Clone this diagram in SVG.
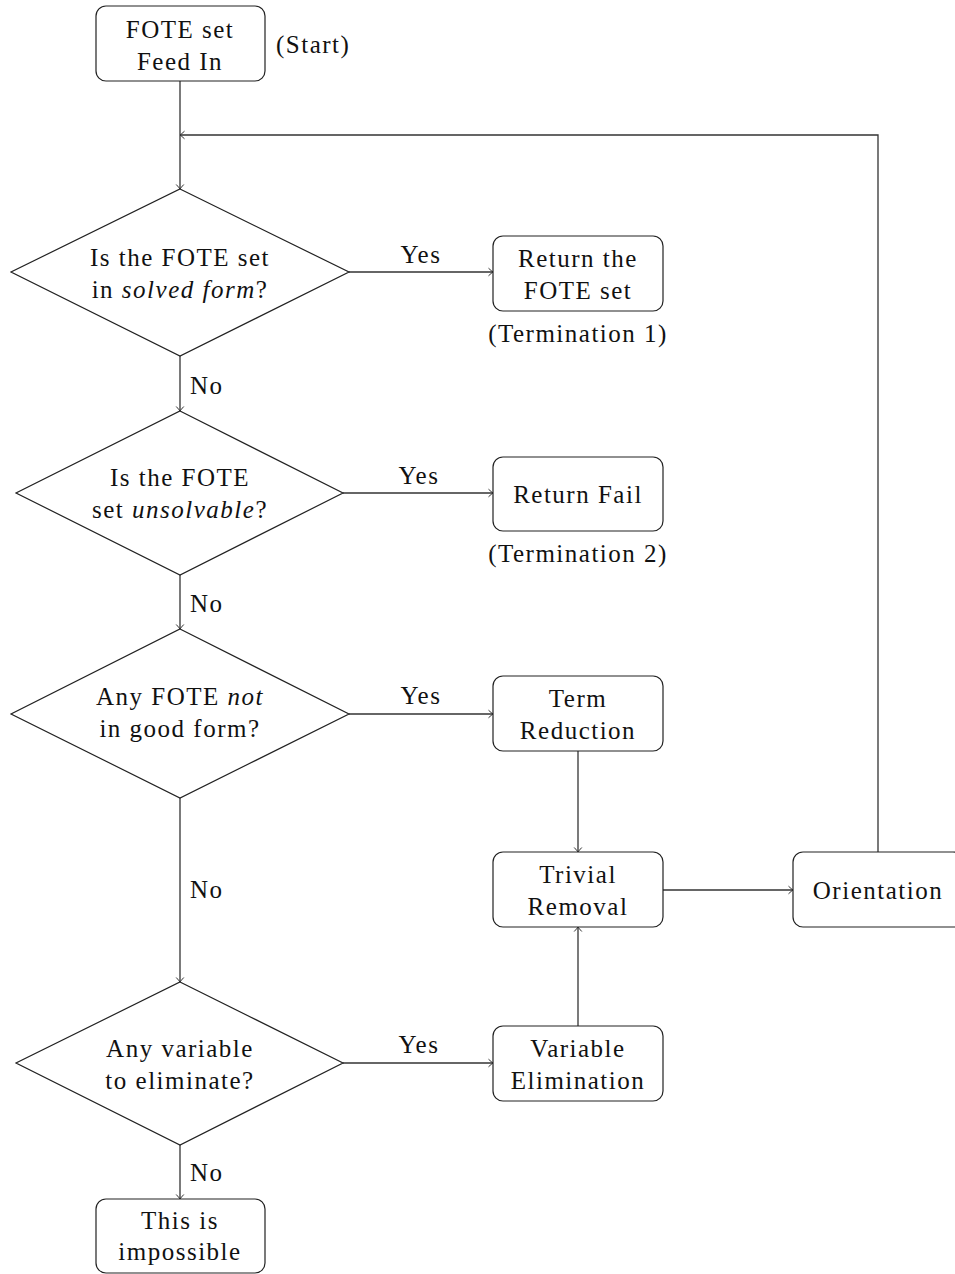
<svg xmlns="http://www.w3.org/2000/svg" width="955" height="1274" viewBox="0 0 955 1274">
  <style>
    .box { fill: #fff; stroke: #222; stroke-width: 1.2; }
    .dia { fill: #fff; stroke: #222; stroke-width: 1.2; }
    .edge { fill: none; stroke: #333; stroke-width: 1.3; }
    text { font-family: "Liberation Serif", "DejaVu Serif", serif; font-size: 25px; letter-spacing: 1.5px; fill: #111; text-anchor: middle; }
    .lbl { text-anchor: start; }
  </style>
  <defs>
    <marker id="arr" viewBox="-6 -5 8 10" markerWidth="8" markerHeight="10" refX="0" refY="0" orient="auto" markerUnits="userSpaceOnUse">
      <path d="M -4.5,-3.8 Q -1.5,-1 0,0 Q -1.5,1 -4.5,3.8" fill="none" stroke="#333" stroke-width="1"/>
    </marker>
  </defs>

  <!-- connectors -->
  <g id="connectors">
    <path class="edge" d="M180,81 V189" marker-end="url(#arr)"/>
    <path class="edge" d="M878,852 V135 H180" marker-end="url(#arr)"/>
    <path class="edge" d="M349,272 H493" marker-end="url(#arr)"/>
    <path class="edge" d="M180,356 V411" marker-end="url(#arr)"/>
    <path class="edge" d="M343,493 H493" marker-end="url(#arr)"/>
    <path class="edge" d="M180,575 V629" marker-end="url(#arr)"/>
    <path class="edge" d="M349,714 H493" marker-end="url(#arr)"/>
    <path class="edge" d="M578,751 V852" marker-end="url(#arr)"/>
    <path class="edge" d="M663,890 H793" marker-end="url(#arr)"/>
    <path class="edge" d="M180,798 V982" marker-end="url(#arr)"/>
    <path class="edge" d="M343,1063 H493" marker-end="url(#arr)"/>
    <path class="edge" d="M578,1026 V927" marker-end="url(#arr)"/>
    <path class="edge" d="M180,1145 V1199" marker-end="url(#arr)"/>
    <text x="421" y="263">Yes</text>
    <text x="419" y="484">Yes</text>
    <text x="421" y="704">Yes</text>
    <text x="419" y="1053">Yes</text>
    <text class="lbl" x="190" y="394">No</text>
    <text class="lbl" x="190" y="612">No</text>
    <text class="lbl" x="190" y="898">No</text>
    <text class="lbl" x="190" y="1181">No</text>
  </g>

  <g id="start">
    <rect class="box" x="96" y="6" width="169" height="75" rx="10"/>
    <text x="180" y="38">FOTE set</text>
    <text x="180" y="70">Feed In</text>
    <text class="lbl" x="276" y="53">(Start)</text>
  </g>

  <g id="q-solved">
    <polygon class="dia" points="180,189 349,272 180,356 11,272"/>
    <text x="180" y="266">Is the FOTE set</text>
    <text x="180" y="298">in <tspan font-style="italic">solved form</tspan>?</text>
  </g>

  <g id="return-set">
    <rect class="box" x="493" y="236" width="170" height="75" rx="10"/>
    <text x="578" y="267">Return the</text>
    <text x="578" y="299">FOTE set</text>
    <text x="578" y="342">(Termination 1)</text>
  </g>

  <g id="q-unsolvable">
    <polygon class="dia" points="180,411 343,493 180,575 16,493"/>
    <text x="180" y="486">Is the FOTE</text>
    <text x="180" y="518">set <tspan font-style="italic">unsolvable</tspan>?</text>
  </g>

  <g id="return-fail">
    <rect class="box" x="493" y="457" width="170" height="74" rx="10"/>
    <text x="578" y="503">Return Fail</text>
    <text x="578" y="562">(Termination 2)</text>
  </g>

  <g id="q-goodform">
    <polygon class="dia" points="180,629 349,714 180,798 11,714"/>
    <text x="180" y="705">Any FOTE <tspan font-style="italic">not</tspan></text>
    <text x="180" y="737">in good form?</text>
  </g>

  <g id="term-reduction">
    <rect class="box" x="493" y="676" width="170" height="75" rx="10"/>
    <text x="578" y="707">Term</text>
    <text x="578" y="739">Reduction</text>
  </g>

  <g id="trivial-removal">
    <rect class="box" x="493" y="852" width="170" height="75" rx="10"/>
    <text x="578" y="883">Trivial</text>
    <text x="578" y="915">Removal</text>
  </g>

  <g id="orientation">
    <rect class="box" x="793" y="852" width="170" height="75" rx="10"/>
    <text x="878" y="899">Orientation</text>
  </g>

  <g id="q-eliminate">
    <polygon class="dia" points="180,982 343,1063 180,1145 16,1063"/>
    <text x="180" y="1057">Any variable</text>
    <text x="180" y="1089">to eliminate?</text>
  </g>

  <g id="variable-elimination">
    <rect class="box" x="493" y="1026" width="170" height="75" rx="10"/>
    <text x="578" y="1057">Variable</text>
    <text x="578" y="1089">Elimination</text>
  </g>

  <g id="impossible">
    <rect class="box" x="96" y="1199" width="169" height="74" rx="10"/>
    <text x="180" y="1229">This is</text>
    <text x="180" y="1260">impossible</text>
  </g>
</svg>
